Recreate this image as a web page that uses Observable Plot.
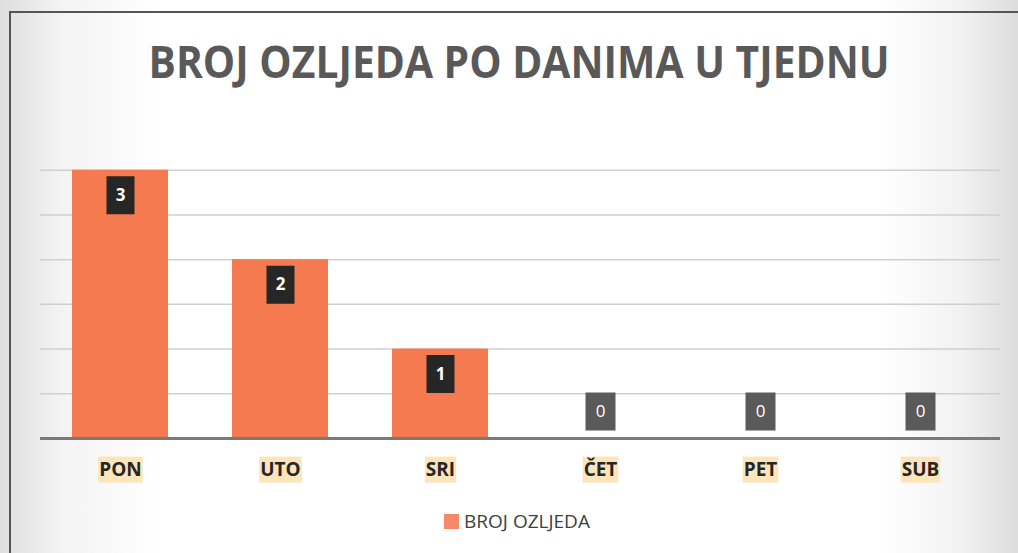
<!DOCTYPE html>
<html>
<head>
<meta charset="utf-8">
<script src="https://cdn.jsdelivr.net/npm/d3@7"></script>
<script src="https://cdn.jsdelivr.net/npm/@observablehq/plot@0.6"></script>
<style>
  html { overflow: hidden; }
  html, body { margin: 0; padding: 0; }
  body {
    width: 1018px; height: 553px; overflow: hidden; position: relative;
    background: linear-gradient(to right, #dedede 0px, #f3f3f3 60px, #ffffff 160px, #ffffff 880px, #f2f2f2 960px, #dcdcdc 1018px);
    font-family: "Open Sans", sans-serif;
  }
  #frame {
    position: absolute; left: 9px; top: 11px; width: 1009px; height: 542px;
    border-left: 2px solid #555; border-top: 2px solid #555; pointer-events: none; box-sizing: border-box;
  }
  #title {
    position: absolute; left: 10px; top: 0; width: 1018px; height: 100px;
    display: flex; align-items: center; justify-content: center;
  }
  #title span {
    display: inline-block; font-weight: 700; font-size: 44px; color: #595959;
    transform-origin: center; white-space: nowrap; margin-top: 22px;
  }
  #chart { position: absolute; left: 0; top: 100px; }
  #legend {
    position: absolute; left: 0; top: 508px; width: 1018px;
    display: flex; align-items: center; justify-content: center;
    font-size: 19px; color: #404040; margin-left: 8px;
  }
  #legend i { display: inline-block; width: 15px; height: 15px; background: #f5896a; margin-right: 5px; }
</style>
</head>
<body>
<div id="title"><span>BROJ OZLJEDA PO DANIMA U TJEDNU</span></div>
<div id="chart"></div>
<div id="legend"><i></i><span>BROJ OZLJEDA</span></div>
<div id="frame"></div>
<script>
const days = ["PON", "UTO", "SRI", "ČET", "PET", "SUB"];
const injuries = [3, 2, 1, 0, 0, 0];
const gridTicks = [0.5, 1, 1.5, 2, 2.5, 3];
const seriesName = "BROJ OZLJEDA";

const data = days.map((d, i) => ({day: d, value: injuries[i]}));
const positive = data.filter(d => d.value > 0);
const zeros = data.filter(d => d.value === 0);

const box = (w, h) => ({draw(ctx) { ctx.rect(-w / 2, -h / 2, w, h); }});

const chart = Plot.plot({
  width: 1018,
  height: 400,
  marginTop: 25,
  marginBottom: 62,
  marginLeft: 40,
  marginRight: 18,
  style: {background: "transparent", fontFamily: "Open Sans, sans-serif"},
  x: {domain: days, paddingInner: 0.4, paddingOuter: 0.2, label: null, axis: null},
  y: {domain: [0, 3.5], axis: null},
  marks: [
    Plot.ruleY(gridTicks, {stroke: "#cfcfcf", strokeWidth: 1.5}),
    Plot.barY(data, {x: "day", y: "value", fill: "#f57a4f"}),
    Plot.ruleY([0], {stroke: "#7a7a7a", strokeWidth: 3}),
    Plot.dot(positive, {x: "day", y: "value", dy: 25, symbol: box(28, 38), fill: "#262626", r: 1}),
    Plot.text(positive, {x: "day", y: "value", dy: 25, text: d => String(d.value), fill: "white", fontWeight: 700, fontSize: 17}),
    Plot.dot(zeros, {x: "day", y: "value", dy: -27, symbol: box(30, 38), fill: "#5a5a5a", r: 1}),
    Plot.text(zeros, {x: "day", y: "value", dy: -27, text: d => String(d.value), fill: "white", fontSize: 17}),
    Plot.text(data, {
      x: "day", y: () => 0, dy: 31, text: "day", fontSize: 19, fontWeight: 700, fill: "#262626",
      className: "daylabel"
    })
  ]
});
document.getElementById("chart").appendChild(chart);

// pale highlight behind each category label
d3.select(chart).selectAll(".daylabel text").each(function() {
  const b = this.getBBox();
  const tr = this.getAttribute("transform");
  const r = document.createElementNS("http://www.w3.org/2000/svg", "rect");
  r.setAttribute("x", b.x - 1);
  r.setAttribute("y", b.y + 1);
  r.setAttribute("width", b.width + 2);
  r.setAttribute("height", b.height);
  r.setAttribute("fill", "#fce5bb");
  if (tr) r.setAttribute("transform", tr);
  this.parentNode.insertBefore(r, this);
});

const t = document.querySelector("#title span");
const w = t.getBoundingClientRect().width;
t.style.transform = `scaleX(${741 / w})`;
</script>
</body>
</html>
